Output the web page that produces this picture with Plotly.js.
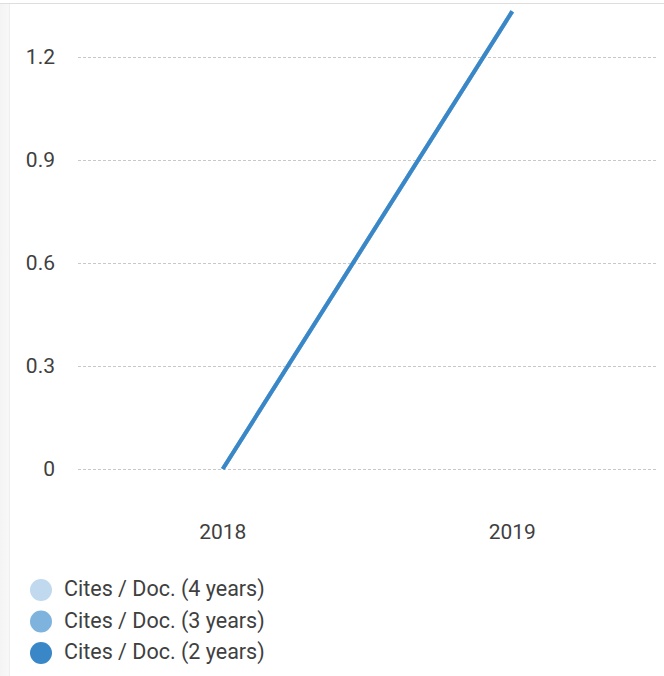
<!DOCTYPE html>
<html>
<head>
<meta charset="utf-8">
<script src="https://cdn.plot.ly/plotly-3.0.1.min.js"></script>
<style>
  html, body { margin: 0; padding: 0; background: #fff; }
  #wrap { position: relative; width: 664px; height: 676px; overflow: hidden; }
  #chart { position: absolute; left: 0; top: 0; width: 664px; height: 676px; }
  #topline { position: absolute; left: 0; top: 3px; width: 664px; height: 1px; background: #dedede; pointer-events: none; }
  #leftstrip { position: absolute; left: 0; top: 4px; width: 9px; height: 672px; background: linear-gradient(to right, #f4f4f4, #f8f8f8); border-right: 1px solid #efefef; pointer-events: none; }
</style>
</head>
<body>
<div id="wrap">
  <div id="chart"></div>
  <div id="topline"></div>
  <div id="leftstrip"></div>
</div>
<script>
// ---- data ----
const years = ["2018", "2019"];
const cites4 = [0, 1.333];
const cites3 = [0, 1.333];
const cites2 = [0, 1.333];
const seriesNames = ["Cites / Doc. (4 years)", "Cites / Doc. (3 years)", "Cites / Doc. (2 years)"];
const seriesColors = ["#c0d9ee", "#7eb3de", "#3a87c8"];
const yTicks = [0, 0.3, 0.6, 0.9, 1.2];
const yTickText = ["0", "0.3", "0.6", "0.9", "1.2"];

// ---- layout geometry ----
const W = 664, H = 676;
const L = 78, R = 7, T = 8, B = 166;
const plotW = W - L - R, plotH = H - T - B;
const pxPerUnit = 412 / 1.2;       // 0 at y=469, 1.2 at y=57
const zeroY = 469;
const yTop = (zeroY - T) / pxPerUnit;
const yBot = -((H - B) - zeroY) / pxPerUnit;

const px2paperX = px => (px - L) / plotW;
const py2paperY = py => ((H - B) - py) / plotH;

const FONT = "Roboto, 'Helvetica Neue', Arial, sans-serif";

const seriesData = [cites4, cites3, cites2];
const traces = seriesData.map((vals, i) => ({
  type: "scatter",
  mode: "lines",
  x: years,
  y: vals,
  name: seriesNames[i],
  line: { color: seriesColors[i], width: 4 },
  showlegend: false,
  hoverinfo: "skip"
}));

// custom legend (circles + text)
const legendY = [590, 621.5, 653];
const shapes = [];
const annotations = [];
seriesNames.forEach((name, i) => {
  shapes.push({
    type: "circle",
    xref: "paper", yref: "paper",
    xsizemode: "pixel", ysizemode: "pixel",
    xanchor: px2paperX(41), yanchor: py2paperY(legendY[i]),
    x0: -11, x1: 11, y0: -11, y1: 11,
    fillcolor: seriesColors[i],
    line: { width: 0 }
  });
  annotations.push({
    xref: "paper", yref: "paper",
    x: px2paperX(62), y: py2paperY(legendY[i] - 1),
    xanchor: "left", yanchor: "middle",
    showarrow: false,
    text: name,
    font: { family: FONT, size: 21.5, color: "#3f3f3f" }
  });
});

const layout = {
  width: W, height: H,
  margin: { l: L, r: R, t: T, b: B, pad: 0 },
  paper_bgcolor: "#fff",
  plot_bgcolor: "#fff",
  showlegend: false,
  font: { family: FONT, size: 21, color: "#3f3f3f" },
  xaxis: {
    type: "category",
    range: [-0.5, 1.5],
    showgrid: false,
    zeroline: false,
    showline: false,
    ticks: "",
    tickfont: { size: 21, color: "#3f3f3f" },
    ticklabelstandoff: 7,
    fixedrange: true
  },
  yaxis: {
    range: [yBot, yTop],
    tickvals: yTicks,
    ticktext: yTickText,
    showgrid: true,
    gridcolor: "#c8c8c8",
    gridwidth: 1,
    griddash: "3px,2px",
    zeroline: false,
    showline: false,
    ticks: "",
    tickfont: { size: 21, color: "#3f3f3f" },
    ticklabelstandoff: 22,
    fixedrange: true
  },
  shapes: shapes,
  annotations: annotations
};

Plotly.newPlot("chart", traces, layout, { displayModeBar: false, staticPlot: true });
</script>
</body>
</html>
